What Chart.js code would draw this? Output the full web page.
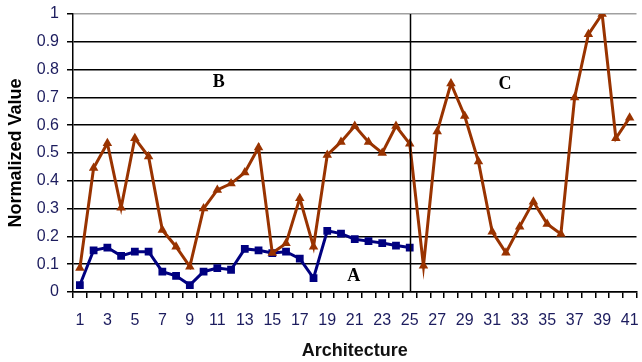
<!DOCTYPE html>
<html>
<head>
<meta charset="utf-8">
<script src="https://cdn.jsdelivr.net/npm/chart.js@4"></script>
<style>
  html, body { margin: 0; padding: 0; background: #fff; }
  #wrap { width: 642px; height: 362px; }
</style>
</head>
<body>
<div id="wrap"><canvas id="archChart" width="642" height="362"></canvas></div>
<script>
// Architecture numbers 1..41
var archLabels = [];
for (var i = 1; i <= 41; i++) archLabels.push(String(i));

// Series A (architectures 1-25)
var seriesA = [0.025, 0.15, 0.16, 0.13, 0.145, 0.145, 0.073, 0.058, 0.025, 0.073,
  0.086, 0.08, 0.155, 0.15, 0.14, 0.145, 0.12, 0.05, 0.22, 0.21,
  0.19, 0.183, 0.176, 0.167, 0.16];

// Series B / C (architectures 1-41)
var seriesBC = [0.086, 0.446, 0.535, 0.303, 0.553, 0.487, 0.223, 0.163, 0.091, 0.30,
  0.367, 0.39, 0.43, 0.52, 0.14, 0.175, 0.337, 0.163, 0.493, 0.54,
  0.597, 0.54, 0.50, 0.597, 0.533, 0.094, 0.577, 0.75, 0.633, 0.469,
  0.217, 0.141, 0.235, 0.325, 0.245, 0.209, 0.70, 0.927, 1.0, 0.553,
  0.627];

// region letters: [text, category index, value]
var regionTags = [
  ['B', 10.1, 0.755],
  ['C', 30.93, 0.748],
  ['A', 19.93, 0.058]
];
var dividerAt = 24; // index of architecture 25

var AXIS_FONT = "'Liberation Sans', Arial, sans-serif";
var TICK_COLOR = '#1c1c5e';

// divider line + region letters
const regionPlugin = {
  id: 'regions',
  afterDatasetsDraw(chart) {
    const c = chart.ctx, area = chart.chartArea;
    const xs = chart.scales.x, ys = chart.scales.y;
    c.save();
    const px = Math.round(xs.getPixelForValue(dividerAt)) + 0.5;
    c.strokeStyle = '#000';
    c.lineWidth = 1.5;
    c.beginPath();
    c.moveTo(px, area.top);
    c.lineTo(px, area.bottom);
    c.stroke();
    c.fillStyle = '#000';
    c.font = "bold 18px 'Liberation Serif', 'Times New Roman', serif";
    c.textAlign = 'center';
    c.textBaseline = 'middle';
    regionTags.forEach(function (t) {
      c.fillText(t[0], xs.getPixelForValue(t[1]), ys.getPixelForValue(t[2]));
    });
    c.restore();
  }
};

var ctx = document.getElementById('archChart');
var archChart = new Chart(ctx, {
  type: 'line',
  data: {
    labels: archLabels,
    datasets: [
      {
        label: 'B/C',
        data: seriesBC,
        borderColor: '#993300',
        backgroundColor: '#993300',
        borderWidth: 3,
        tension: 0,
        pointStyle: 'triangle',
        pointRadius: 5.5,
        pointBorderWidth: 0,
        pointBackgroundColor: '#993300',
      },
      {
        label: 'A',
        data: seriesA,
        borderColor: '#000080',
        backgroundColor: '#000080',
        borderWidth: 3,
        tension: 0,
        pointStyle: 'rect',
        pointRadius: 5.5,
        pointBorderWidth: 0,
        pointBackgroundColor: '#000080',
      },
    ],
  },
  options: {
    responsive: false,
    animation: false,
    layout: { padding: { top: 14, right: 0, bottom: 0, left: 0 } },
    plugins: {
      legend: { display: false },
      tooltip: { enabled: false },
    },
    scales: {
      x: {
        type: 'category',
        offset: true,
        afterFit: function (s) { s.height = 70; s.paddingLeft = 0; s.paddingRight = 0; },
        grid: {
          offset: true,
          drawOnChartArea: false,
          drawTicks: true,
          tickLength: 6,
          color: '#000',
          lineWidth: 1.5,
        },
        border: { color: '#000', width: 1.5 },
        ticks: {
          autoSkip: false,
          maxRotation: 0,
          padding: 13,
          color: TICK_COLOR,
          font: { family: AXIS_FONT, size: 16 },
          callback: function (v, i) { return i % 2 === 0 ? archLabels[i] : ''; },
        },
        title: {
          display: true,
          text: 'Architecture',
          color: '#111',
          font: { family: AXIS_FONT, size: 18, weight: 'bold' },
          padding: { top: 1, bottom: 0 },
        },
      },
      y: {
        min: 0,
        max: 1,
        afterFit: function (s) { s.width = 73; s.paddingTop = 0; s.paddingBottom = 0; },
        grid: {
          color: function (c) { return c.tick && c.tick.value === 1 ? '#a0a0a0' : '#000'; },
          tickColor: '#000',
          lineWidth: 1.5,
          tickLength: 6,
        },
        border: { color: '#000', width: 1.5 },
        ticks: {
          stepSize: 0.1,
          padding: 8,
          color: TICK_COLOR,
          font: { family: AXIS_FONT, size: 16 },
          callback: function (v) { return String(+v.toFixed(1)); },
        },
        title: {
          display: true,
          text: 'Normalized Value',
          color: '#000',
          font: { family: AXIS_FONT, size: 18, weight: 'bold' },
          padding: { top: 5, bottom: 0 },
        },
      },
    },
  },
  plugins: [regionPlugin],
});
</script>
</body>
</html>
